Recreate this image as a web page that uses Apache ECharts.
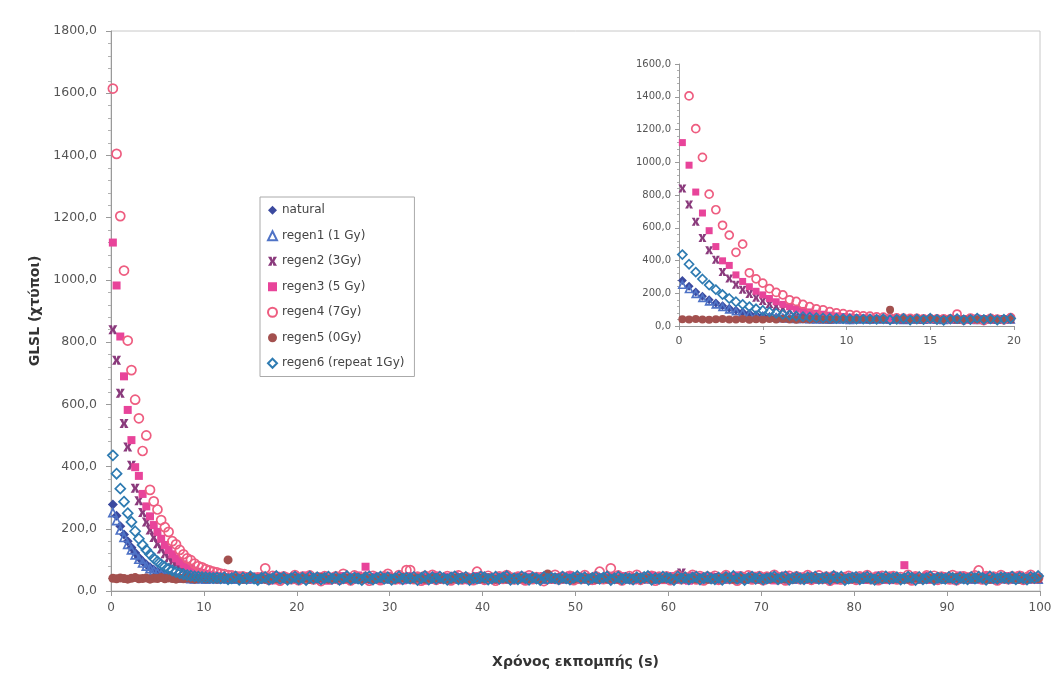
<!DOCTYPE html>
<html>
<head>
<meta charset="utf-8">
<script src="https://cdn.jsdelivr.net/npm/echarts@6/dist/echarts.min.js"></script>
<style>
html,body{margin:0;padding:0;background:#fff;}
#chart{width:1052px;height:677px;}
</style>
</head>
<body>
<div id="chart"></div>
<script>
// Sampling grid of the measurement (channel centres, seconds)
const T0 = 0.2, DT = 0.4;

const seriesNames = ['natural', 'regen1 (1 Gy)', 'regen2 (3Gy)', 'regen3 (5 Gy)', 'regen4 (7Gy)', 'regen5 (0Gy)', 'regen6 (repeat 1Gy)'];
const yTicksMain = [0, 200, 400, 600, 800, 1000, 1200, 1400, 1600, 1800];
const xTicksMain = [0, 10, 20, 30, 40, 50, 60, 70, 80, 90, 100];

const natural = [
278,242,208,182,160,140,123,108,96,85,
76,68,62,57,53,50,47,45,44,43,
42,41,40,42,39,41,40,42,41,39,
40,42,41,39,41,40,42,40,39,41,
42,40,39,41,40,42,41,39,40,42,
41,39,40,42,41,40,39,41,42,40,
39,41,42,40,41,39,40,42,41,40,
42,40,41,39,40,42,41,40,39,41,
40,42,39,41,42,40,41,39,40,42,
41,40,42,40,39,41,42,40,41,39,
40,41,39,42,40,41,40,42,39,41,
42,40,41,40,42,39,41,40,42,41,
39,41,40,42,41,40,39,41,42,40,
41,39,42,40,41,42,40,39,41,40,
42,41,40,39,41,40,42,41,39,42,
40,42,41,40,39,41,40,42,41,39,
41,40,42,41,40,39,42,40,41,42,
39,41,40,42,41,40,39,41,42,40,
41,42,39,40,42,41,40,39,41,40,
42,40,41,39,40,42,41,40,42,41,
40,39,41,42,40,41,39,42,40,41,
41,42,40,39,41,40,42,41,39,40,
42,40,41,40,42,39,41,40,41,42,
39,41,42,40,41,40,39,42,40,41,
41,40,39,42,41,40,42,41,40,39];

const regen1 = [
252,226,196,172,150,132,116,102,90,80,
72,65,59,55,51,48,46,44,43,42,
41,40,39,41,40,38,40,41,39,40,
41,39,40,38,41,40,39,41,40,38,
40,41,39,40,38,41,40,39,41,40,
39,40,41,38,40,39,41,40,38,41,
40,39,41,40,38,40,41,39,40,41,
38,40,39,41,40,39,38,41,40,39,
41,40,38,39,41,40,39,40,41,38,
40,41,39,38,40,41,40,39,38,41,
39,40,41,40,38,39,41,40,39,40,
41,38,40,39,41,40,38,40,41,39,
40,41,39,40,38,41,40,39,41,40,
38,40,41,39,40,38,41,40,39,41,
40,39,38,41,40,39,41,38,40,39,
41,40,39,40,41,38,40,39,41,40,
39,41,40,38,40,41,39,40,38,41,
40,38,41,40,39,40,41,39,40,38,
41,40,39,41,38,40,39,41,40,39,
38,41,40,39,40,41,38,40,39,41,
40,39,41,38,40,39,41,40,38,40,
41,40,38,40,41,39,40,38,41,39,
39,40,41,39,38,41,40,39,40,41,
40,38,39,41,40,40,41,38,39,40,
41,39,40,38,41,40,39,41,40,38];

const regen2 = [
840,742,636,538,463,404,330,290,252,222,
196,172,152,135,120,107,96,87,79,72,
66,61,57,54,51,49,47,45,44,43,
42,41,43,40,42,41,39,42,40,41,
43,40,41,42,39,41,43,40,42,41,
40,42,41,39,43,41,40,42,41,40,
42,41,43,40,41,39,42,40,43,41,
40,42,39,41,43,40,41,42,40,43,
41,40,42,41,39,43,40,42,41,40,
42,41,40,43,41,39,42,40,41,42,
40,43,41,40,42,41,39,42,43,40,
41,42,40,41,43,40,42,41,39,42,
43,40,41,42,40,41,43,39,42,40,
41,42,40,43,41,40,42,41,39,42,
40,41,43,40,42,41,40,42,43,41,
39,42,40,58,41,42,40,43,41,40,
42,41,40,43,41,39,42,40,41,42,
40,43,41,42,40,41,39,42,43,40,
41,40,42,41,43,40,42,39,41,42,
43,41,40,42,41,40,43,41,39,42,
40,42,41,43,40,41,42,40,41,43,
41,39,42,40,43,41,40,42,41,40,
42,41,40,43,41,42,39,41,40,42,
41,43,40,41,42,40,41,43,39,41,
42,40,41,43,40,42,41,40,42,41];

const regen3 = [
1120,982,818,690,582,485,398,370,312,272,
240,212,190,168,148,132,118,105,95,86,
78,72,66,62,58,55,52,50,48,47,
45,44,43,44,42,41,43,40,42,41,
38,46,41,34,49,43,37,45,40,48,
35,44,50,39,42,36,47,41,33,46,
43,38,48,36,45,41,50,39,78,44,
40,47,35,43,49,38,42,46,34,41,
48,37,44,40,33,47,42,50,39,45,
36,43,49,41,38,46,34,44,48,40,
45,39,42,35,47,41,50,37,43,38,
49,34,46,40,44,37,48,42,36,45,
41,47,38,50,35,43,46,39,44,33,
46,40,45,37,49,42,36,48,41,44,
34,43,39,47,41,50,38,45,35,42,
48,36,44,40,46,33,49,42,38,45,
39,47,42,35,43,48,37,44,50,40,
45,38,49,41,36,46,40,43,34,47,
42,50,35,44,39,47,41,36,48,43,
37,44,46,40,49,34,45,42,38,47,
43,39,48,36,45,41,50,38,44,35,
46,41,37,83,43,38,47,40,45,49,
36,44,42,48,39,46,34,43,50,41,
47,38,45,41,35,49,43,37,46,40,
42,48,39,44,50,36,41,47,38,45];

const regen4 = [
1615,1405,1205,1030,805,710,615,555,450,500,
325,288,262,228,205,190,160,150,132,118,
105,99,88,80,76,70,66,62,60,56,
54,51,50,48,46,47,44,45,43,44,
44,73,36,49,40,33,47,42,38,51,
35,46,41,50,37,44,32,48,43,39,
47,36,55,41,34,50,44,38,46,33,
49,40,35,47,55,42,37,51,44,67,
67,38,46,33,49,41,52,36,44,39,
48,34,43,50,37,45,40,35,62,47,
36,49,42,33,47,39,51,44,37,46,
41,34,50,38,45,43,32,48,40,52,
37,46,41,49,35,44,39,51,42,36,
47,62,38,45,73,40,50,34,43,48,
39,52,36,44,41,49,33,46,40,47,
35,43,50,38,45,41,52,37,48,34,
46,40,49,36,43,51,39,45,33,47,
42,50,37,44,48,35,46,40,52,38,
45,34,49,41,47,38,43,51,36,44,
50,39,46,33,48,42,37,45,49,40,
36,47,43,51,38,44,35,49,41,46,
48,37,45,40,52,34,47,42,39,50,
41,49,36,46,43,38,51,35,44,47,
39,45,50,66,37,48,42,46,34,51,
44,38,47,41,49,36,45,52,40,43];

const regen5 = [
41,39,42,40,38,41,43,39,40,42,
38,41,40,43,39,42,40,38,41,39,
42,40,38,41,43,39,40,42,38,41,
40,100,39,42,40,38,41,43,39,40,
42,38,41,40,39,43,40,38,42,41,
39,40,42,38,41,39,43,40,38,41,
40,42,39,41,38,40,43,39,41,40,
38,41,40,42,39,41,38,40,43,39,
41,39,42,40,38,41,40,43,39,42,
40,38,41,39,42,40,38,41,43,40,
39,42,40,38,41,43,39,40,42,38,
41,40,39,42,40,38,41,55,39,40,
42,39,41,40,38,42,40,39,41,43,
38,40,42,39,41,40,38,42,40,39,
41,43,39,40,42,38,41,40,39,42,
40,38,41,43,39,40,42,39,41,40,
38,42,40,39,41,43,40,38,42,41,
39,40,42,41,38,40,43,39,41,40,
42,39,40,38,41,42,40,39,43,41,
40,41,39,42,40,38,41,40,42,39,
41,40,43,39,41,40,38,42,40,41,
39,42,40,41,38,40,42,39,41,43,
40,38,41,42,40,39,41,43,39,40,
42,40,39,41,43,40,38,41,40,42,
39,41,40,42,38,41,40,39,42,40];

const regen6 = [
436,377,329,287,250,222,192,168,148,132,
118,105,95,86,78,71,66,61,57,54,
51,49,47,46,45,44,43,42,43,41,
44,38,41,46,36,43,39,47,40,35,
42,45,37,40,48,39,44,36,41,46,
38,43,35,47,40,44,37,42,46,39,
45,36,41,48,38,43,40,35,44,47,
37,42,46,39,44,36,41,47,38,43,
40,45,35,42,48,37,44,39,46,41,
36,43,47,38,41,45,35,42,40,46,
44,37,40,46,39,43,48,36,41,38,
47,42,36,44,40,35,45,39,43,41,
38,46,41,37,43,48,40,44,36,42,
45,39,43,47,35,41,46,38,42,40,
37,44,40,45,48,36,42,39,46,43,
41,35,47,40,44,38,43,46,37,42,
46,40,38,43,36,45,41,48,39,44,
35,42,46,39,44,37,40,43,47,38,
43,47,36,41,45,40,38,44,42,46,
39,41,44,37,48,42,46,35,40,43,
45,38,42,46,40,36,44,41,47,39,
42,44,37,40,46,43,35,45,38,41,
47,36,43,41,39,45,42,37,44,40,
38,45,40,46,42,36,47,41,39,44,
43,40,46,38,44,41,37,45,42,48];

const seriesValues = [natural, regen1, regen2, regen3, regen4, regen5, regen6];

const styles = [
  {symbol: 'diamond', color: '#3b4a9f', filled: true, size: 10},
  {symbol: 'triangle', color: '#4f73c6', filled: false, size: 8},
  {symbol: 'path://M0,0L4,0L5,3.6L6,0L10,0L7,5L10,10L6,10L5,6.4L4,10L0,10L3,5Z', color: '#8a3a7c', filled: true, size: 9},
  {symbol: 'rect', color: '#e8449a', filled: true, size: 8},
  {symbol: 'circle', color: '#ee5d80', filled: false, size: 9},
  {symbol: 'circle', color: '#a3504e', filled: true, size: 9},
  {symbol: 'diamond', color: '#2e7bb2', filled: false, size: 10}
];

function toPoints(vals) {
  return vals.map((v, i) => [Math.round((T0 + DT * i) * 10) / 10, v]);
}

const fmt = v => v.toFixed(1).replace('.', ',');
const FONT = '"DejaVu Sans", Arial, sans-serif';

const series = [];
[0, 1].forEach(g => {
  seriesNames.forEach((name, k) => {
    const st = styles[k];
    const sz = g === 0 ? st.size : st.size - 1;
    series.push({
      name: name,
      type: 'scatter',
      xAxisIndex: g,
      yAxisIndex: g,
      symbol: st.symbol,
      symbolSize: sz,
      clip: true,
      silent: true,
      data: toPoints(seriesValues[k]),
      itemStyle: st.filled
        ? {color: st.color, opacity: 1}
        : {color: 'rgba(255,255,255,0)', borderColor: st.color, borderWidth: 1.7, opacity: 1}
    });
  });
});

const chart = echarts.init(document.getElementById('chart'), null, {renderer: 'canvas'});
chart.setOption({
  backgroundColor: '#ffffff',
  animation: false,
  textStyle: {fontFamily: FONT},
  legend: {
    orient: 'vertical',
    left: 260,
    top: 197,
    padding: [6, 10, 6, 7],
    itemGap: 11,
    itemWidth: 9,
    itemHeight: 9,
    itemSymbolKeepAspect: true,
    backgroundColor: '#ffffff',
    borderColor: '#aaaaaa',
    borderWidth: 1,
    data: seriesNames,
    textStyle: {fontFamily: FONT, fontSize: 12, color: '#444', lineHeight: 14.5},
    selectedMode: false
  },
  grid: [
    {left: 111, right: 12, top: 31, bottom: 86, show: true, borderColor: '#c8c8c8', borderWidth: 1, outerBoundsMode: 'none'},
    {left: 679, right: 38, top: 64, bottom: 351, show: false, outerBoundsMode: 'none'}
  ],
  xAxis: [
    {
      type: 'value', gridIndex: 0, min: xTicksMain[0], max: xTicksMain[xTicksMain.length - 1], interval: 10,
      name: 'Χρόνος εκπομπής (s)', nameLocation: 'middle', nameGap: 64,
      nameTextStyle: {fontFamily: FONT, fontSize: 14, fontWeight: 'bold', color: '#333'},
      axisLine: {lineStyle: {color: '#9a9a9a'}},
      axisTick: {show: true, length: 5, lineStyle: {color: '#9a9a9a'}},
      axisLabel: {fontFamily: FONT, fontSize: 12, color: '#555', margin: 11},
      splitLine: {show: false}
    },
    {
      type: 'value', gridIndex: 1, min: 0, max: 20, interval: 5,
      axisLine: {lineStyle: {color: '#9a9a9a'}},
      axisTick: {show: true, length: 4, lineStyle: {color: '#9a9a9a'}},
      axisLabel: {fontFamily: FONT, fontSize: 11, color: '#555', margin: 10},
      splitLine: {show: false}
    }
  ],
  yAxis: [
    {
      type: 'value', gridIndex: 0, min: yTicksMain[0], max: yTicksMain[yTicksMain.length - 1], interval: 200,
      name: 'GLSL (χτύποι)', nameLocation: 'middle', nameGap: 64, nameRotate: 90,
      nameTextStyle: {fontFamily: FONT, fontSize: 14, fontWeight: 'bold', color: '#333'},
      axisLine: {show: true, lineStyle: {color: '#9a9a9a'}},
      axisTick: {show: true, length: 5, lineStyle: {color: '#9a9a9a'}},
      minorTick: {show: true, splitNumber: 5, length: 3, lineStyle: {color: '#b0b0b0'}},
      axisLabel: {fontFamily: FONT, fontSize: 12.5, color: '#555', margin: 14, formatter: fmt},
      splitLine: {show: false}
    },
    {
      type: 'value', gridIndex: 1, min: 0, max: 1600, interval: 200,
      axisLine: {show: true, lineStyle: {color: '#9a9a9a'}},
      axisTick: {show: true, length: 4, lineStyle: {color: '#9a9a9a'}},
      minorTick: {show: true, splitNumber: 5, length: 2, lineStyle: {color: '#b0b0b0'}},
      axisLabel: {fontFamily: FONT, fontSize: 10, color: '#555', margin: 8, formatter: fmt},
      splitLine: {show: false}
    }
  ],
  series: series
});
</script>
</body>
</html>
